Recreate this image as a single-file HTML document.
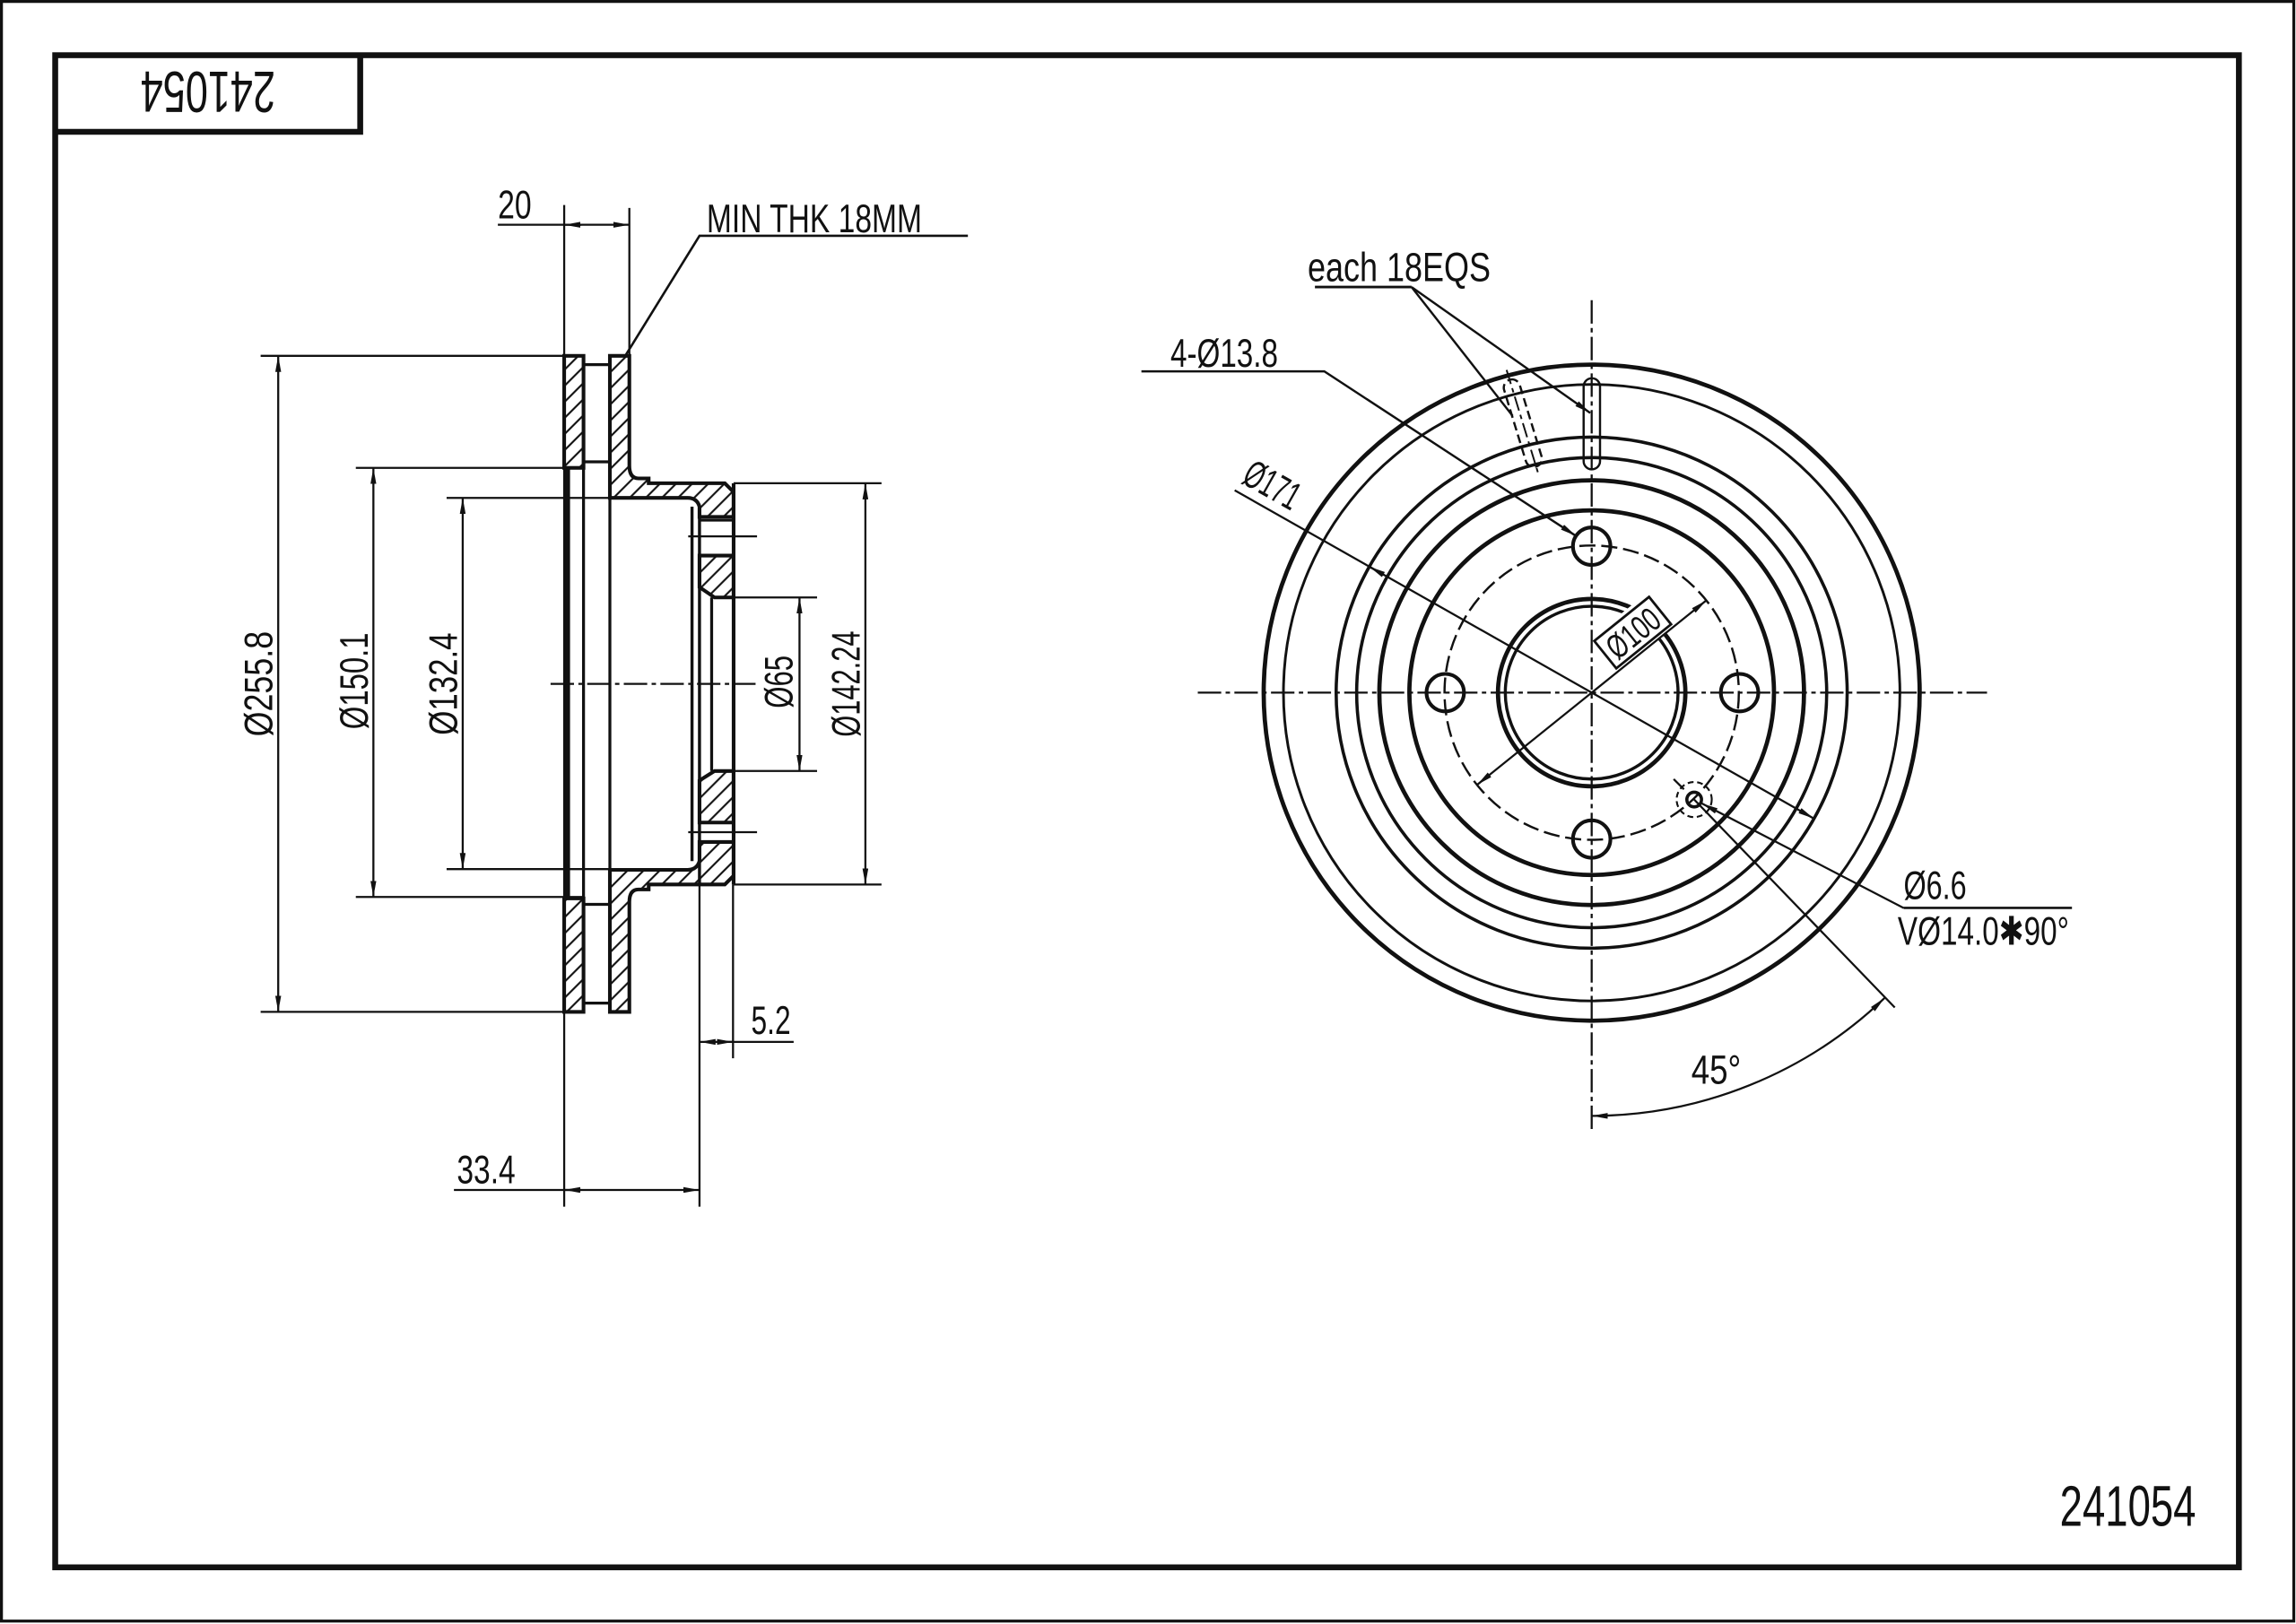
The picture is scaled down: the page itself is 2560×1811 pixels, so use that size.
<!DOCTYPE html>
<html><head><meta charset="utf-8">
<style>
html,body{margin:0;padding:0;background:#fff;}
svg{display:block;}
text{font-family:"Liberation Sans Narrow","Liberation Sans","DejaVu Sans",sans-serif;fill:#111;}
</style></head><body>
<svg xmlns="http://www.w3.org/2000/svg" width="2560" height="1811" viewBox="0 0 1568 1109" preserveAspectRatio="none">
<defs>
<pattern id="h" patternUnits="userSpaceOnUse" width="11" height="11">
<path d="M0,11 L11,0 M-2.75,2.75 L2.75,-2.75 M8.25,13.75 L13.75,8.25" stroke="#111" stroke-width="1.3" fill="none"/>
</pattern>
<marker id="a" viewBox="0 0 11 4" refX="11" refY="2" markerWidth="11" markerHeight="4" markerUnits="userSpaceOnUse" orient="auto-start-reverse">
<path d="M0,0 L11,2 L0,4 z" fill="#111"/>
</marker>
</defs>
<rect x="0" y="0" width="1568" height="1109" fill="#fff"/>

<!-- frames -->
<g fill="none" stroke="#111">
<rect x="1" y="1" width="1565.5" height="1106" stroke-width="2"/>
<rect x="37.7" y="37.7" width="1491.3" height="1032.6" stroke-width="4"/>
<path d="M37.7,90 H246 V37.7" stroke-width="4"/>
</g>
<text x="96" y="78" font-size="40" textLength="92" lengthAdjust="spacingAndGlyphs" transform="rotate(180 142 63.5)">241054</text>
<text x="1406.7" y="1042" font-size="39" textLength="93" lengthAdjust="spacingAndGlyphs">241054</text>

<!-- ============ LEFT SECTION ============ -->
<g stroke="#111" stroke-width="2.5" fill="url(#h)" stroke-linejoin="miter">
<rect x="385.3" y="243" width="13.2" height="76.5"/>
<rect x="385.3" y="613.5" width="13.2" height="77.5"/>
<path d="M416.5,243 H429.8 V318 Q429.8,326.7 436,326.7 H443 V330 H495 L501,336 V353 H477.7 V346 Q476,340 469.6,340 H416.5 Z"/>
<path d="M477.7,379.4 H501 V408 H488 L477.7,401 Z"/>
<path d="M416.5,691 H429.8 V616 Q429.8,607.4 436,607.4 H443 V604 H495 L501,598 V575 H477.7 V588 Q476,594 469.6,594 H416.5 Z"/>
<path d="M488,526.5 H501 V561.7 H477.7 V533 Z"/>
</g>
<rect x="385.3" y="319.5" width="4" height="294" fill="#111"/>
<g stroke="#111" fill="none">
<line x1="385.3" y1="140" x2="385.3" y2="824" stroke-width="1.4"/>
<line x1="398.5" y1="319.5" x2="398.5" y2="613.5" stroke-width="2"/>
<line x1="416.5" y1="340" x2="416.5" y2="594" stroke-width="2"/>
<line x1="472.6" y1="346" x2="472.6" y2="588" stroke-width="2.1"/>
<line x1="477.7" y1="346" x2="477.7" y2="604" stroke-width="2.1"/>
<line x1="477.7" y1="604" x2="477.7" y2="824" stroke-width="1.4"/>
<line x1="501" y1="330" x2="501" y2="604" stroke-width="2.5"/>
<line x1="500.6" y1="604" x2="500.6" y2="722.7" stroke-width="1.4"/>
<line x1="429.8" y1="142" x2="429.8" y2="243" stroke-width="1.4"/>
<line x1="486" y1="408" x2="486" y2="526.5" stroke-width="2"/>
<line x1="477.7" y1="355.3" x2="501" y2="355.3" stroke-width="1.8"/>
<line x1="477.7" y1="575" x2="501" y2="575" stroke-width="1.8"/>
<line x1="398.5" y1="249" x2="416.5" y2="249" stroke-width="2"/>
<line x1="398.5" y1="315.4" x2="416.5" y2="315.4" stroke-width="2"/>
<line x1="398.5" y1="617.6" x2="416.5" y2="617.6" stroke-width="2"/>
<line x1="398.5" y1="685" x2="416.5" y2="685" stroke-width="2"/>
<!-- extension lines -->
<g stroke-width="1.4">
<line x1="178" y1="243" x2="385.3" y2="243"/>
<line x1="178" y1="691" x2="385.3" y2="691"/>
<line x1="243" y1="319.5" x2="398.5" y2="319.5"/>
<line x1="243" y1="612.5" x2="398.5" y2="612.5"/>
<line x1="305" y1="340" x2="416.5" y2="340"/>
<line x1="305" y1="593.5" x2="416.5" y2="593.5"/>
<line x1="501" y1="330" x2="602" y2="330"/>
<line x1="501" y1="604" x2="602" y2="604"/>
<line x1="488" y1="408" x2="558" y2="408"/>
<line x1="488" y1="526.5" x2="558" y2="526.5"/>
<line x1="470" y1="366.3" x2="517" y2="366.3"/>
<line x1="470" y1="568.3" x2="517" y2="568.3"/>
<line x1="376" y1="467" x2="516" y2="467" stroke-dasharray="16 3 3 3"/>
</g>
<!-- dimension lines -->
<g stroke-width="1.4">
<line x1="190" y1="243" x2="190" y2="691" marker-start="url(#a)" marker-end="url(#a)"/>
<line x1="255" y1="319.5" x2="255" y2="612.5" marker-start="url(#a)" marker-end="url(#a)"/>
<line x1="316" y1="340" x2="316" y2="593.5" marker-start="url(#a)" marker-end="url(#a)"/>
<line x1="546" y1="408" x2="546" y2="526.5" marker-start="url(#a)" marker-end="url(#a)"/>
<line x1="591" y1="330" x2="591" y2="604" marker-start="url(#a)" marker-end="url(#a)"/>
<line x1="340" y1="153.5" x2="429.8" y2="153.5" marker-end="url(#a)"/>
<line x1="397" y1="153.5" x2="385.3" y2="153.5" marker-end="url(#a)"/>
<line x1="477.7" y1="711.5" x2="542" y2="711.5" marker-start="url(#a)"/>
<line x1="490" y1="711.5" x2="500.6" y2="711.5" marker-end="url(#a)"/>
<line x1="310" y1="812.6" x2="477.7" y2="812.6" marker-end="url(#a)"/>
<line x1="397" y1="812.6" x2="385.3" y2="812.6" marker-end="url(#a)"/>
<polyline points="427,243 477.7,161 661,161" stroke-width="1.6"/>
</g>
</g>
<text x="340" y="149" font-size="27" textLength="23" lengthAdjust="spacingAndGlyphs">20</text>
<text x="482.6" y="158.5" font-size="27.5" textLength="147" lengthAdjust="spacingAndGlyphs">MIN THK 18MM</text>
<text transform="translate(186,467) rotate(-90)" text-anchor="middle" font-size="27" textLength="72" lengthAdjust="spacingAndGlyphs">Ø255.8</text>
<text transform="translate(251,465) rotate(-90)" text-anchor="middle" font-size="27" textLength="66" lengthAdjust="spacingAndGlyphs">Ø150.1</text>
<text transform="translate(312,467) rotate(-90)" text-anchor="middle" font-size="27" textLength="70" lengthAdjust="spacingAndGlyphs">Ø132.4</text>
<text transform="translate(541,465.6) rotate(-90)" text-anchor="middle" font-size="27" textLength="36" lengthAdjust="spacingAndGlyphs">Ø65</text>
<text transform="translate(587,467) rotate(-90)" text-anchor="middle" font-size="27" textLength="72.5" lengthAdjust="spacingAndGlyphs">Ø142.24</text>
<text x="513" y="706" font-size="27" textLength="27" lengthAdjust="spacingAndGlyphs">5.2</text>
<text x="312" y="808" font-size="27" textLength="40" lengthAdjust="spacingAndGlyphs">33.4</text>

<!-- ============ RIGHT VIEW ============ -->
<g stroke="#111" fill="none">
<circle cx="1087" cy="473" r="224" stroke-width="2.9"/>
<circle cx="1087" cy="473" r="210.5" stroke-width="1.8"/>
<circle cx="1087" cy="473" r="174.5" stroke-width="2.2"/>
<circle cx="1087" cy="473" r="160.5" stroke-width="2.2"/>
<circle cx="1087" cy="473" r="145" stroke-width="2.9"/>
<circle cx="1087" cy="473" r="124.5" stroke-width="2.9"/>
<circle cx="1087" cy="473" r="100.5" stroke-width="1.5" stroke-dasharray="11 4"/>
<circle cx="1087" cy="473" r="64" stroke-width="2.9"/>
<circle cx="1087" cy="473" r="59" stroke-width="2.1"/>
<circle cx="1087" cy="373" r="12.8" stroke-width="2.5"/>
<circle cx="987" cy="473" r="12.8" stroke-width="2.5"/>
<circle cx="1188" cy="473" r="12.8" stroke-width="2.5"/>
<circle cx="1087" cy="573" r="12.8" stroke-width="2.5"/>
<!-- small hole -->
<circle cx="1157" cy="546" r="5" stroke-width="2.2"/>
<circle cx="1157" cy="546" r="12" stroke-width="1.3" stroke-dasharray="4 2.5"/>
<!-- slots -->
<rect x="1081.5" y="258.3" width="11.2" height="62.2" rx="5.6" stroke-width="1.5"/>
<g transform="translate(1040,289) rotate(-17)">
<rect x="-5.6" y="-31" width="11.2" height="62" rx="5.6" stroke-width="1.5" stroke-dasharray="6 3"/>
<line x1="0" y1="-38" x2="0" y2="38" stroke-width="1.2" stroke-dasharray="10 3 3 3"/>
</g>
</g>
<!-- phi100 box -->
<g transform="translate(1115,432) rotate(-38.8)">
<rect x="-27" y="-15" width="54" height="30" fill="#fff"/>
<rect x="-24" y="-12" width="48" height="24" fill="none" stroke="#111" stroke-width="1.7"/>
<text x="0" y="8.5" text-anchor="middle" font-size="23" textLength="40" lengthAdjust="spacingAndGlyphs">Ø100</text>
</g>
<g stroke="#111" fill="none" stroke-width="1.4">
<line x1="818" y1="473" x2="1357" y2="473" stroke-dasharray="16 3 3 3"/>
<line x1="1087" y1="205" x2="1087" y2="772" stroke-dasharray="16 3 3 3"/>
<!-- phi100 dim -->
<line x1="1008.7" y1="536" x2="1165.3" y2="410" marker-start="url(#a)" marker-end="url(#a)"/>
<!-- phi171 dim -->
<line x1="843.2" y1="334.8" x2="1238.8" y2="559" marker-end="url(#a)"/>
<line x1="945" y1="392.5" x2="935.2" y2="387" marker-end="url(#a)"/>
<!-- 4-phi13.8 leader -->
<polyline points="779.5,253.6 904.4,253.6 1076.3,366" marker-end="url(#a)" stroke-width="1.5"/>
<!-- each 18EQS -->
<line x1="898" y1="196" x2="964" y2="196" stroke-width="1.7"/>
<line x1="964" y1="196" x2="1086" y2="282" marker-end="url(#a)" stroke-width="1.5"/>
<line x1="964" y1="196" x2="1033" y2="284" stroke-width="1.5"/>
<!-- small hole lines -->
<line x1="1143" y1="532" x2="1150" y2="539"/>
<line x1="1157" y1="546" x2="1294" y2="688"/>
<line x1="1300" y1="620" x2="1162.3" y2="548.7" marker-end="url(#a)" stroke-width="1.4"/>
<line x1="1300" y1="620" x2="1415" y2="620" stroke-width="1.6"/>
<!-- 45 deg arc -->
<path d="M1087,762 A289,289 0 0 0 1287,681.5" marker-start="url(#a)" marker-end="url(#a)"/>
</g>
<text x="893" y="192" font-size="28" textLength="125" lengthAdjust="spacingAndGlyphs">each 18EQS</text>
<text x="799.3" y="250.5" font-size="27.5" textLength="73.5" lengthAdjust="spacingAndGlyphs">4-Ø13.8</text>
<text transform="translate(847,329.3) rotate(29.5)" font-size="27" textLength="40" lengthAdjust="spacingAndGlyphs">Ø171</text>
<text x="1300" y="614" font-size="27" textLength="43" lengthAdjust="spacingAndGlyphs">Ø6.6</text>
<text x="1296" y="645" font-size="27" textLength="117" lengthAdjust="spacingAndGlyphs">VØ14.0✱90°</text>
<text x="1155" y="740" font-size="28" textLength="34" lengthAdjust="spacingAndGlyphs">45°</text>
</svg>
</body></html>
